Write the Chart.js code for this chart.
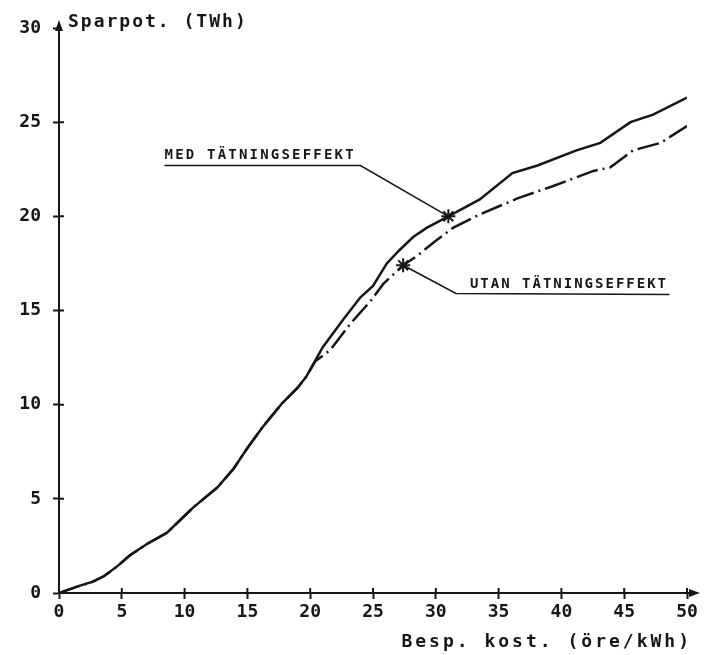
<!DOCTYPE html>
<html>
<head>
<meta charset="utf-8">
<script src="https://cdn.jsdelivr.net/npm/chart.js@4/dist/chart.umd.min.js"></script>
<style>
  html, body { margin: 0; padding: 0; background: #fff; }
  #wrap { width: 704px; height: 655px; }
</style>
</head>
<body>
<div id="wrap"><canvas id="chart"></canvas></div>
<script>
// curve "med tätningseffekt" (solid)
const medX = [0, 1.5, 2.7, 3.6, 4.6, 5.65, 7.0, 8.6, 10.7, 12.6, 13.9, 15.0, 16.2, 17.8, 19.0, 19.7, 21.0, 22.6, 24.0, 25.0, 26.1, 27.1, 28.2, 29.3, 31.0, 33.5, 36.1, 38.1, 41.2, 43.1, 45.5, 47.3, 50];
const medY = [0, 0.35, 0.6, 0.9, 1.4, 2.0, 2.6, 3.2, 4.55, 5.6, 6.6, 7.7, 8.8, 10.1, 10.9, 11.5, 13.05, 14.5, 15.7, 16.3, 17.5, 18.2, 18.9, 19.4, 20.0, 20.9, 22.3, 22.7, 23.5, 23.9, 25.0, 25.4, 26.3];

// curve "utan tätningseffekt" (dash-dot), follows the other one up to ~20.5
const utanX = [20.4, 21.6, 23.2, 24.8, 25.8, 27.4, 28.5, 30.0, 31.4, 33.5, 36.5, 39.3, 42.5, 43.9, 45.7, 47.9, 50];
const utanY = [12.3, 12.9, 14.3, 15.5, 16.4, 17.4, 17.9, 18.7, 19.4, 20.1, 20.95, 21.6, 22.4, 22.6, 23.5, 23.9, 24.8];

// leader lines for the two labels (last point = star on the curve)
const medLeaderX = [8.4, 24.0, 31.0];
const medLeaderY = [22.7, 22.7, 20.0];
const utanLeaderX = [48.6, 31.6, 27.4];
const utanLeaderY = [15.85, 15.9, 17.4];

const labelMed = "MED TÄTNINGSEFFEKT";
const labelUtan = "UTAN TÄTNINGSEFFEKT";
const yTitle = "Sparpot. (TWh)";
const xTitle = "Besp. kost. (öre/kWh)";

const INK = "#161616";
const MONO = '"DejaVu Sans Mono", monospace';

function toPoints(xs, ys) {
  var pts = [];
  for (let i = 0; i < xs.length; i++) {
    pts.push({ x: xs[i], y: ys[i] });
  }
  return pts;
}

// utan curve shares the lower part of the med curve
var utanFullX = [], utanFullY = [];
for (let i = 0; i < medX.length && medX[i] < utanX[0]; i++) {
  utanFullX.push(medX[i]);
  utanFullY.push(medY[i]);
}
utanFullX = utanFullX.concat(utanX);
utanFullY = utanFullY.concat(utanY);

const decorPlugin = {
  id: "decor",
  afterDraw(chart) {
    const ctx = chart.ctx;
    const xs = chart.scales.x, ys = chart.scales.y;
    const x0 = xs.getPixelForValue(0), y0 = ys.getPixelForValue(0);
    const yTop = ys.getPixelForValue(30);
    ctx.save();
    ctx.strokeStyle = INK;
    ctx.fillStyle = INK;
    ctx.lineWidth = 2;

    // inner half of the tick marks (plotter ticks cross the axis)
    ctx.beginPath();
    xs.ticks.forEach((t) => {
      if (t.value === 0) return;
      const px = xs.getPixelForValue(t.value);
      ctx.moveTo(px, y0);
      ctx.lineTo(px, y0 - 5);
    });
    ys.ticks.forEach((t) => {
      if (t.value === 0 || t.value === 30) return;
      const py = ys.getPixelForValue(t.value);
      ctx.moveTo(x0, py);
      ctx.lineTo(x0 + 5, py);
    });
    ctx.stroke();

    // x axis extension + arrow
    const xEnd = chart.width - 4;
    ctx.beginPath();
    ctx.moveTo(xs.right, y0);
    ctx.lineTo(xEnd - 6, y0);
    ctx.stroke();
    ctx.beginPath();
    ctx.moveTo(xEnd, y0);
    ctx.lineTo(xEnd - 11, y0 - 4);
    ctx.lineTo(xEnd - 11, y0 + 4);
    ctx.closePath();
    ctx.fill();

    // y axis arrow
    ctx.beginPath();
    ctx.moveTo(x0, yTop - 8);
    ctx.lineTo(x0 - 4, yTop + 3);
    ctx.lineTo(x0 + 4, yTop + 3);
    ctx.closePath();
    ctx.fill();

    // axis titles
    ctx.textBaseline = "alphabetic";
    ctx.font = "bold 18px " + MONO;
    ctx.letterSpacing = "2px";
    ctx.textAlign = "left";
    ctx.fillText(yTitle, x0 + 9, yTop - 1);
    ctx.letterSpacing = "3px";
    ctx.textAlign = "right";
    ctx.fillText(xTitle, chart.width - 12, chart.height - 8);

    // curve labels, sitting on their leader lines
    ctx.font = "bold 14px " + MONO;
    ctx.letterSpacing = "2.2px";
    ctx.textAlign = "left";
    ctx.fillText(labelMed, xs.getPixelForValue(medLeaderX[0]), ys.getPixelForValue(medLeaderY[0]) - 6);
    ctx.letterSpacing = "2px";
    ctx.fillText(labelUtan, xs.getPixelForValue(utanLeaderX[1]) + 14, ys.getPixelForValue(utanLeaderY[1]) - 6);
    ctx.restore();
  },
};

const config = {
  type: "scatter",
  data: {
    datasets: [
      {
        label: "Med tätningseffekt",
        data: toPoints(medX, medY),
        showLine: true,
        borderColor: INK,
        borderWidth: 2.5,
        pointRadius: 0,
        tension: 0,
      },
      {
        label: "Utan tätningseffekt",
        data: toPoints(utanFullX, utanFullY),
        showLine: true,
        borderColor: INK,
        borderWidth: 2.5,
        borderDash: [22, 5, 2, 5],
        pointRadius: 0,
        tension: 0,
      },
      {
        label: "med leader",
        data: toPoints(medLeaderX, medLeaderY),
        showLine: true,
        borderColor: INK,
        borderWidth: 1.6,
        pointStyle: "star",
        pointRadius: [0, 0, 7],
        pointBorderWidth: 2,
        pointBorderColor: INK,
      },
      {
        label: "utan leader",
        data: toPoints(utanLeaderX, utanLeaderY),
        showLine: true,
        borderColor: INK,
        borderWidth: 1.6,
        pointStyle: "star",
        pointRadius: [0, 0, 7],
        pointBorderWidth: 2,
        pointBorderColor: INK,
      },
    ],
  },
  options: {
    responsive: true,
    maintainAspectRatio: false,
    animation: false,
    layout: { padding: { top: 28, right: 17, bottom: 0, left: 0 } },
    plugins: {
      legend: { display: false },
      tooltip: { enabled: false },
    },
    scales: {
      x: {
        type: "linear",
        min: 0,
        max: 50,
        afterFit: (scale) => { scale.height = 62; },
        border: { color: INK, width: 2 },
        grid: { drawOnChartArea: false, tickLength: 6, tickColor: INK, tickWidth: 2 },
        ticks: { stepSize: 5, color: INK, padding: 3, font: { family: MONO, size: 18, weight: "bold" } },
      },
      y: {
        type: "linear",
        min: 0,
        max: 30,
        afterFit: (scale) => { scale.width = 59; },
        border: { color: INK, width: 2 },
        grid: { drawOnChartArea: false, tickLength: 6, tickColor: INK, tickWidth: 2 },
        ticks: { stepSize: 5, color: INK, padding: 12, font: { family: MONO, size: 18, weight: "bold" } },
      },
    },
  },
  plugins: [decorPlugin],
};

new Chart(document.getElementById("chart"), config);
</script>
</body>
</html>
